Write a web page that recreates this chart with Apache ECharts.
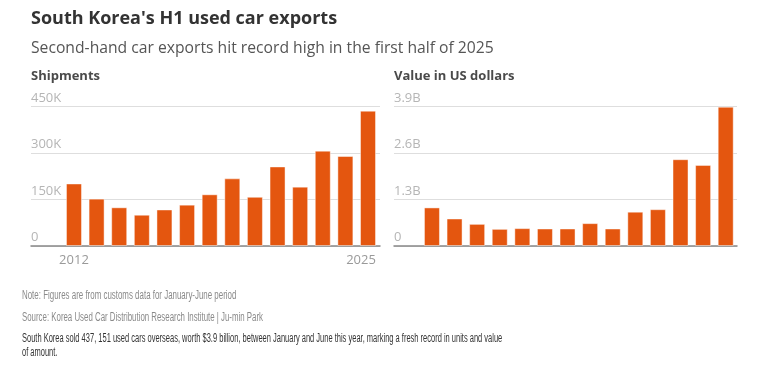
<!DOCTYPE html>
<html>
<head>
<meta charset="utf-8">
<script src="https://cdn.jsdelivr.net/npm/echarts@6/dist/echarts.min.js"></script>
<style>html,body{margin:0;padding:0;background:#fff;}#c{width:774px;height:380px;}</style>
</head>
<body>
<div id="c"></div>
<script>
const years = [2012,2013,2014,2015,2016,2017,2018,2019,2020,2021,2022,2023,2024,2025];
const shipments = [202000,153000,125000,101000,118000,133500,167000,218500,159000,257000,191600,308000,290700,437151];
const valueBn = [1.08,0.77,0.62,0.48,0.50,0.49,0.49,0.64,0.49,0.96,1.03,2.43,2.27,3.9];
const shipTicks = [0,150000,300000,450000];
const valueTicks = [0,1.3,2.6,3.9];
const xLabelYears = [2012,2025];

const BAR = '#e4560f';
const FONT = "'Open Sans', 'Noto Sans', sans-serif";
const NARROW = "'Liberation Sans Narrow', 'Liberation Sans', sans-serif";

const chart = echarts.init(document.getElementById('c'), null, {renderer:'canvas'});

function yAxisCfg(idx, ticks, fmt){
  return {
    type:'value', gridIndex: idx, min: ticks[0], max: ticks[ticks.length-1],
    interval: ticks[1]-ticks[0],
    axisLine:{show:false}, axisTick:{show:false},
    splitLine:{show:true, lineStyle:{color:'#dedede', width:1}},
    axisLabel:{inside:true, margin:0, align:'left', verticalAlign:'bottom', padding:[0,0,2,0],
      color:'#b5b5b5', fontSize:13, fontFamily:FONT, formatter: fmt}
  };
}

chart.setOption({
  animation:false,
  grid:[
    {left:31, right:394, top:106.7, bottom:134},
    {left:394, right:37, top:106.7, bottom:134}
  ],
  xAxis:[
    {type:'value', gridIndex:0, min:2010.1, max:2025.53,
      axisLine:{show:true, onZero:true, lineStyle:{color:'#888', width:1.5}},
      axisTick:{show:false}, splitLine:{show:false},
      axisLabel:{customValues:xLabelYears, margin:8, color:'#9a9a9a', fontSize:13, fontFamily:FONT,
        formatter: v => v===2025 ? '{r|2025}' : '{c|'+v+'}',
        rich:{r:{padding:[0,14,0,0], color:'#9a9a9a', fontSize:13, fontFamily:FONT},
              c:{color:'#9a9a9a', fontSize:13, fontFamily:FONT}}}
    },
    {type:'value', gridIndex:1, min:2010.32, max:2025.5,
      axisLine:{show:true, onZero:true, lineStyle:{color:'#888', width:1.5}},
      axisTick:{show:false}, splitLine:{show:false}, axisLabel:{show:false}
    }
  ],
  yAxis:[
    yAxisCfg(0, shipTicks, v => v===0 ? '0' : (v/1000)+'K'),
    yAxisCfg(1, valueTicks, v => v===0 ? '0' : (Math.round(v*10)/10)+'B')
  ],
  series:[
    {type:'bar', xAxisIndex:0, yAxisIndex:0, barWidth:16,
      data: years.map((y,i)=>[y, shipments[i]]),
      itemStyle:{color:BAR, borderColor:'rgba(255,255,255,0.45)', borderWidth:1}},
    {type:'bar', xAxisIndex:1, yAxisIndex:1, barWidth:16,
      data: years.map((y,i)=>[y, valueBn[i]]),
      itemStyle:{color:BAR, borderColor:'rgba(255,255,255,0.45)', borderWidth:1}}
  ],
  graphic:[
    {type:'text', x:31, y:18.5, style:{text:"South Korea's H1 used car exports", font:"bold 18px "+FONT, fill:'#333', verticalAlign:'middle'}},
    {type:'text', x:31, y:48.5, style:{text:"Second-hand car exports hit record high in the first half of 2025", font:"15.7px "+FONT, fill:'#555', verticalAlign:'middle'}},
    {type:'text', x:31, y:76.5, style:{text:"Shipments", font:"bold 13px "+FONT, fill:'#4a4a4a', verticalAlign:'middle'}},
    {type:'text', x:394, y:76.5, style:{text:"Value in US dollars", font:"bold 13px "+FONT, fill:'#4a4a4a', verticalAlign:'middle'}},
    {type:'text', x:22, y:296, scaleX:0.66, style:{text:"Note: Figures are from customs data for January-June period", font:"12px "+NARROW, fill:'#8a8a8a', verticalAlign:'middle'}},
    {type:'text', x:22, y:317.5, scaleX:0.655, style:{text:"Source: Korea Used Car Distribution Research Institute | Ju-min Park", font:"12px "+NARROW, fill:'#8a8a8a', verticalAlign:'middle'}},
    {type:'text', x:22, y:338.5, scaleX:0.625, style:{text:"South Korea sold 437, 151 used cars overseas, worth $3.9 billion, between January and June this year, marking a fresh record in units and value", font:"12px "+NARROW, fill:'#333', verticalAlign:'middle'}},
    {type:'text', x:22, y:352.5, scaleX:0.625, style:{text:"of amount.", font:"12px "+NARROW, fill:'#333', verticalAlign:'middle'}}
  ]
});
</script>
</body>
</html>
